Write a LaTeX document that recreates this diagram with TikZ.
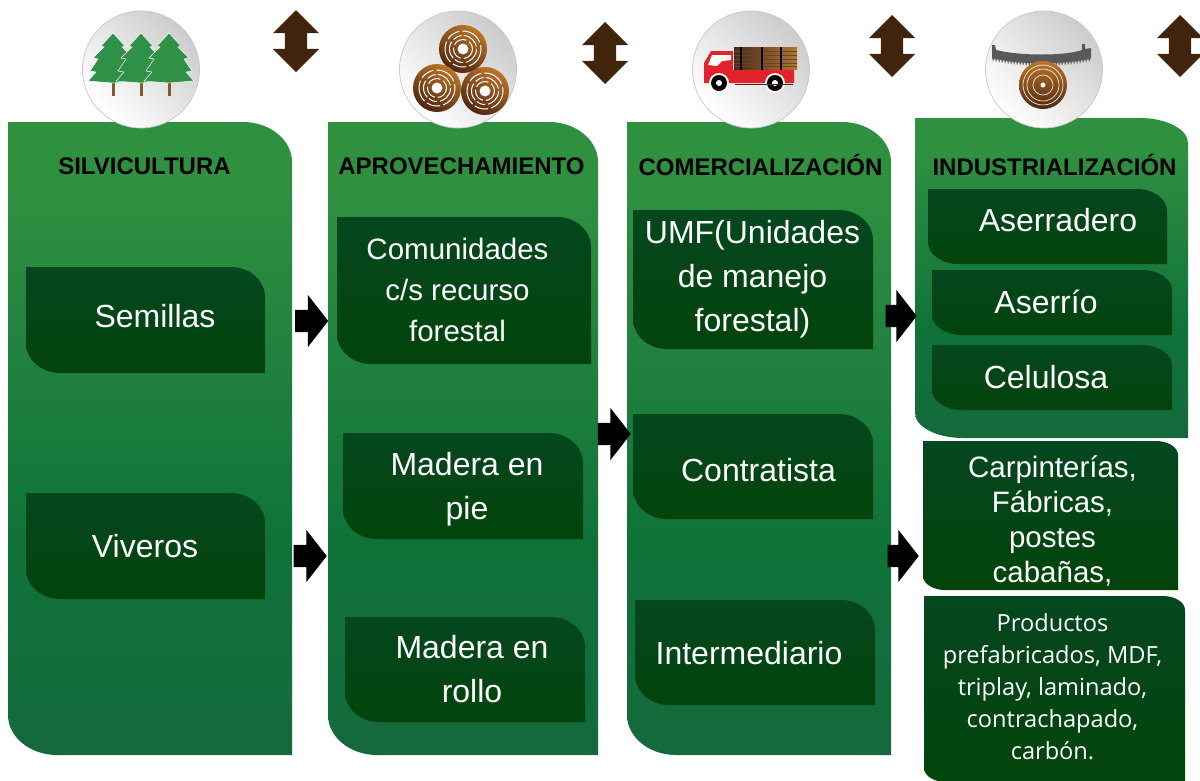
\documentclass[tikz,border=0pt]{standalone}
\usepackage{fontspec}
\setmainfont{Liberation Sans}
\newfontfamily\prodfont{Open Sans}
\usetikzlibrary{shapes.arrows}
\definecolor{panelA}{HTML}{2F9140}
\definecolor{panelM}{HTML}{25843F}
\definecolor{panelB}{HTML}{0F7339}
\definecolor{panelC}{HTML}{15693D}
\definecolor{boxA}{HTML}{05471F}
\definecolor{boxB}{HTML}{04461A}
\definecolor{boxC}{HTML}{02440A}
\definecolor{treegreen}{HTML}{2F9148}
\definecolor{updown}{HTML}{40240C}
\definecolor{logdark}{HTML}{4F2610}
\definecolor{loglight}{HTML}{BC7528}
\definecolor{truckred}{HTML}{E4222B}
\pgfdeclareverticalshading{panelshade}{100bp}{color(0bp)=(panelC); color(25bp)=(panelC); color(42bp)=(panelB); color(60bp)=(panelM); color(70bp)=(panelA); color(100bp)=(panelA)}
\tikzset{
	panel/.style={shade,shading=panelshade},
	innerbox/.style={shade,top color=boxA,middle color=boxB,bottom color=boxC},
	title/.style={font=\bfseries\fontsize{24}{28}\selectfont,text=black,inner sep=0pt},
	label/.style={font=\fontsize{32}{44}\selectfont,text=white,align=center,inner sep=0pt},
	labelsmall/.style={font=\fontsize{29.5}{41}\selectfont,text=white,align=center,inner sep=0pt},
	icon/.style={circle,minimum size=117pt,inner sep=0pt,draw=black!22,line width=.7pt,shade,top color=black!20,bottom color=white,shading angle=-45},
	updownarrow/.style={double arrow,fill=updown,minimum height=62pt,minimum width=46pt,double arrow head extend=12pt,inner sep=11pt,shape border rotate=90},
	nextarrow/.style={single arrow,fill=black,minimum height=33pt,minimum width=52pt,single arrow head extend=15pt,single arrow tip angle=104,inner sep=11pt,anchor=tip},
}
% x1,y1,x2,y2 and the two radii of the rounded corners
\newcommand{\cornerbox}[7]{
	\path[#1] (#2,#3) -- (#4-#6,#3) .. controls (#4-0.45*#6,#3) and (#4,#3+0.45*#7) .. (#4,#3+#7)
		-- (#4,#5) -- (#2+#6,#5) .. controls (#2+0.45*#6,#5) and (#2,#5-0.45*#7) .. (#2,#5-#7) -- cycle;
}
\begin{document}
\begin{tikzpicture}[x=1pt,y=-1pt]
	\useasboundingbox (0,0) rectangle (1200,780);
	% panels
	\cornerbox{panel}{8}{122}{292}{755}{49}{40}
	\cornerbox{panel}{328}{122}{598}{755}{49}{40}
	\cornerbox{panel}{627}{122}{891}{755}{49}{40}
	\cornerbox{panel}{915}{118}{1188}{438}{48}{25}
	% inner boxes
	\cornerbox{innerbox}{26}{267}{265}{373}{34}{30}
	\cornerbox{innerbox}{26}{493}{265}{599}{34}{30}
	\cornerbox{innerbox}{337}{217}{591}{364}{34}{30}
	\cornerbox{innerbox}{343}{433}{583}{539}{34}{30}
	\cornerbox{innerbox}{345}{617}{585}{722}{34}{30}
	\cornerbox{innerbox}{633}{210}{873}{349}{34}{30}
	\cornerbox{innerbox}{633}{414}{873}{519}{34}{30}
	\cornerbox{innerbox}{635}{600}{875}{705}{34}{30}
	\cornerbox{innerbox}{928}{189}{1167}{264}{30}{22}
	\cornerbox{innerbox}{932}{270}{1172}{335}{30}{20}
	\cornerbox{innerbox}{932}{345}{1172}{410}{30}{20}
	\cornerbox{innerbox}{923}{441}{1178}{590}{22}{14}
	\cornerbox{innerbox}{924}{596}{1185}{782}{22}{14}
	% titles
	\node[title] (silvicultura) at (144.5,166) {SILVICULTURA};
	\node[title] (aprovechamiento) at (461.5,166) {APROVECHAMIENTO};
	\node[title] (comercializacion) at (760.5,164.5) {COMERCIALIZACIÓN};
	\node[title] (industrializacion) at (1054.5,164.5) {INDUSTRIALIZACIÓN};
	% labels
	\node[label] (semillas) at (155,316) {Semillas};
	\node[label] (viveros) at (145,546) {Viveros};
	\node[labelsmall] (comunidades) at (457.5,290) {Comunidades\\c/s recurso\\forestal};
	\node[label] (pie) at (467,489) {Madera en\\pie};
	\node[label] (rollo) at (472,669) {Madera en\\rollo};
	\node[label] (umf) at (752.5,279) {UMF(Unidades\\de manejo\\forestal)};
	\node[label] (contratista) at (758.5,470) {Contratista};
	\node[label] (intermediario) at (749,653) {Intermediario};
	\node[label] (aserradero) at (1058,220) {Aserradero};
	\node[label] (aserrio) at (1046,302) {Aserrío};
	\node[label] (celulosa) at (1046,377) {Celulosa};
	\node[font=\fontsize{29.5}{35.3}\selectfont,text=white,align=center,inner sep=0pt] (carpinterias) at (1052.5,521) {Carpinterías,\\Fábricas,\\postes\\cabañas,};
	\node[font=\prodfont\fontsize{23.6}{32}\selectfont,text=white,align=center,inner sep=0pt] (productos) at (1052.5,687) {Productos\\prefabricados, MDF,\\triplay, laminado,\\contrachapado,\\carbón.};
	% block arrows
	\node[nextarrow] (next1) at (328.5,321) {};
	\node[nextarrow] (next2) at (327,556) {};
	\node[nextarrow] (next3) at (631,434) {};
	\node[nextarrow,minimum height=28pt] (next4) at (917,316) {};
	\node[nextarrow,minimum height=30pt] (next5) at (919,556) {};
	\node[updownarrow] (updown1) at (296,41) {};
	\node[updownarrow] (updown2) at (605,53) {};
	\node[updownarrow] (updown3) at (892,46) {};
	\node[updownarrow] (updown4) at (1180,46) {};
	% icons
	\node[icon] (iconforest) at (141,69.5) {};
	\node[icon] (iconlogs) at (458,69.5) {};
	\node[icon] (icontruck) at (751,69.5) {};
	\node[icon] (iconsaw) at (1044,69.5) {};
	% trees
	\foreach \tx in {113,141,169}{
		\fill[brown!70!black] (\tx-1.5,80) rectangle (\tx+1.5,96);
		\draw[white,line width=.5pt,fill=treegreen] (\tx,33) -- (\tx+12,46) -- (\tx+9,47) -- (\tx+20,58) -- (\tx+15,59) -- (\tx+23,71) -- (\tx+17,72)
			-- (\tx+25,81) -- (\tx,83) -- (\tx-25,81) -- (\tx-17,72) -- (\tx-23,71) -- (\tx-15,59) -- (\tx-20,58) -- (\tx-9,47) -- (\tx-12,46) -- cycle;
	}
	% logs
	\foreach \lx/\ly in {463/49,437/88,485/91}{
		\shade[top color=loglight,bottom color=logdark,shading angle=-30] (\lx,\ly) circle (24);
		\draw[white,line width=1pt,dash pattern=on 22pt off 3pt on 14pt off 3pt] (\lx,\ly) circle (18);
		\draw[white,line width=1pt,dash pattern=on 18pt off 3pt on 9pt off 2pt] (\lx,\ly) circle (13.5);
		\draw[white,line width=1pt,dash pattern=on 14pt off 3pt] (\lx,\ly) circle (9.5);
		\fill[white] (\lx,\ly) circle (5.5);
	}
	% truck
	\fill[truckred] (704,83) -- (704,63) -- (711,51) -- (733,51) -- (733,70) -- (794,70) -- (794,83) -- cycle;
	\fill[white] (708,65) -- (712,55) -- (731,55) -- (731,60) -- (722,61) -- (717,66) -- cycle;
	\shade[left color=logdark,right color=loglight] (734,47) rectangle (797,69);
	\foreach \ly in {51,55,59,63,66}{
		\draw[black!70,line width=.5pt] (734,\ly) -- (797,\ly);
	}
	\foreach \lx in {741,762,781}{
		\draw[black,line width=1.5pt] (\lx,47) -- (\lx,70);
	}
	\foreach \wx in {719,775}{
		\fill[white] (\wx,83) circle (10);
		\fill[black] (\wx,83) circle (8);
		\fill[white] (\wx,83) circle (3);
	}
	\draw[logdark,line width=1pt] (735,84) -- (793,84);
	% saw
	\foreach \sx in {0,...,32}{
		\pgfmathsetmacro{\yb}{58+5*(1-((3*\sx-49.5)/49.5)^2)}
		\fill[black!60] (992+3*\sx,\yb-1) -- (995+3*\sx,\yb-1) -- (993+3*\sx,\yb+3.5) -- cycle;
	}
	\fill[black!65] (992,45) -- (995,45) -- (996,50) .. controls (1020,56) and (1065,56) .. (1082,50) -- (1082,44) -- (1085,44) -- (1085,49) -- (1091,48) -- (1091,58)
		.. controls (1065,65) and (1020,65) .. (992,58) -- cycle;
	\shade[top color=loglight,bottom color=logdark] (1043,85) circle (24);
	\foreach \rr in {10,16,20}{
		\draw[white!85!brown,line width=.7pt] (1043,85) circle (\rr);
	}
	\fill[white] (1043,85) circle (2.5);
\end{tikzpicture}
\end{document}
